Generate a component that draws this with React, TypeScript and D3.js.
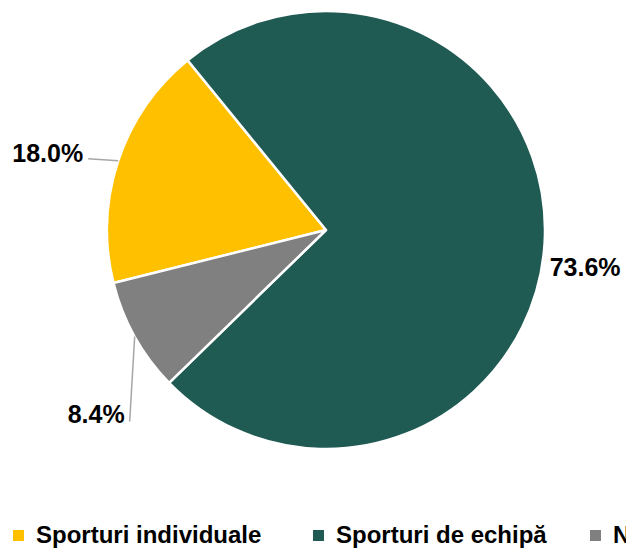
import React from "react";
import * as d3 from "d3";

const categories = ["Sporturi individuale", "Sporturi de echipă", "Niciun sport"];
const values = [18.0, 73.6, 8.4];
const labels = ["18.0%", "73.6%", "8.4%"];
const colors = ["#FFC000", "#1F5A53", "#808080"];

const W = 626;
const H = 550;
const cx = 326;
const cy = 230;
const R = 219;
const startDeg = -104;

const FONT = "'Liberation Sans', Arial, sans-serif";

export default function App() {
  const pie = d3
    .pie<number>()
    .sort(null)
    .value((d) => d)
    .startAngle((startDeg * Math.PI) / 180)
    .endAngle(((startDeg + 360) * Math.PI) / 180);
  const arcs = pie(values);
  const arc = d3.arc<d3.PieArcDatum<number>>().innerRadius(0).outerRadius(R);

  const pt = (a: number, r: number) => [cx + r * Math.sin(a), cy - r * Math.cos(a)];

  // label layouts per slice
  const labelEls = arcs.map((a, i) => {
    const mid = (a.startAngle + a.endAngle) / 2;
    const [ex, ey] = pt(mid, R);
    if (i === 0) {
      return (
        <g key={i}>
          <polyline points={`${ex},${ey} ${ex - 30},${ey - 2}`} fill="none" stroke="#A6A6A6" strokeWidth={1.5} />
          <text x={ex - 35} y={ey + 1} textAnchor="end" fontFamily={FONT} fontWeight="bold" fontSize={25} fill="#000">
            {labels[i]}
          </text>
        </g>
      );
    }
    if (i === 1) {
      return (
        <text key={i} x={ex + 5} y={ey + 33} textAnchor="start" fontFamily={FONT} fontWeight="bold" fontSize={25} fill="#000">
          {labels[i]}
        </text>
      );
    }
    return (
      <g key={i}>
        <polyline points={`${ex},${ey} ${ex - 5},${ey + 85}`} fill="none" stroke="#A6A6A6" strokeWidth={1.5} />
        <text x={ex - 10} y={ey + 86} textAnchor="end" fontFamily={FONT} fontWeight="bold" fontSize={25} fill="#000">
          {labels[i]}
        </text>
      </g>
    );
  });

  const legendX = [13, 313, 590];

  return (
    <svg
      width={W}
      height={H}
      style={{ position: "absolute", left: 0, top: 0 }}
      viewBox={`0 0 ${W} ${H}`}
    >
      <rect width={W} height={H} fill="#fff" />
      <g transform={`translate(${cx},${cy})`}>
        {arcs.map((a, i) => (
          <path key={i} d={arc(a) || ""} fill={colors[i]} stroke="#fff" strokeWidth={2.5} strokeLinejoin="round" />
        ))}
      </g>
      {labelEls}
      {categories.map((c, i) => (
        <g key={c}>
          <rect x={legendX[i]} y={530} width={11} height={11} fill={colors[i]} />
          <text x={legendX[i] + 23} y={543} fontFamily={FONT} fontWeight="bold" fontSize={24} fill="#000">
            {c}
          </text>
        </g>
      ))}
    </svg>
  );
}
